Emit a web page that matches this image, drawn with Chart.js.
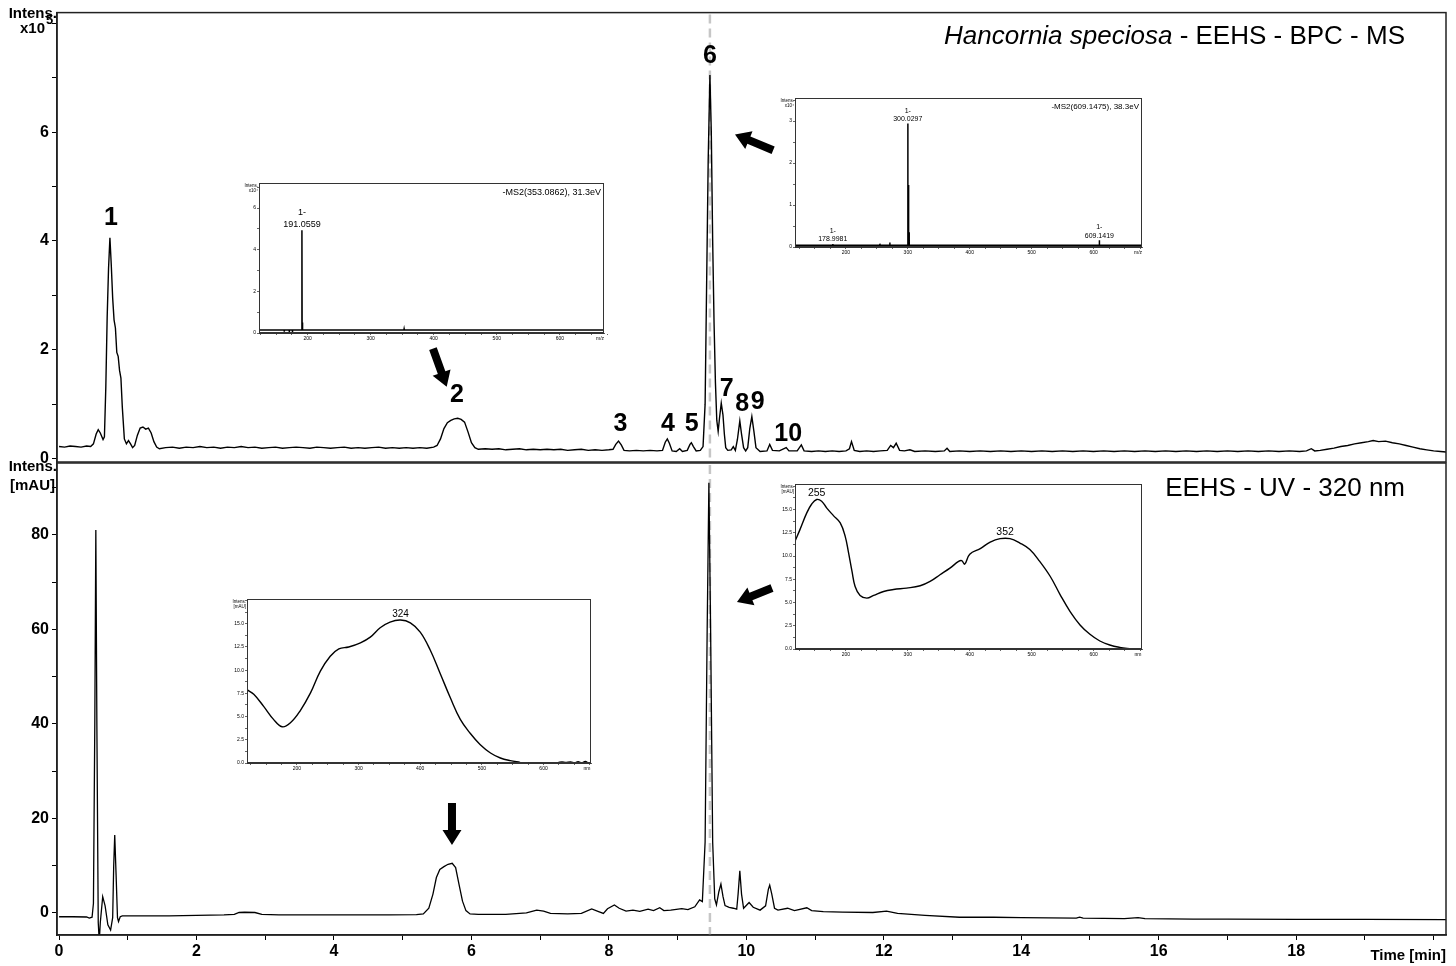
<!DOCTYPE html>
<html>
<head>
<meta charset="utf-8">
<title>Hancornia speciosa - EEHS - BPC - MS / UV 320 nm</title>
<script src="https://cdn.jsdelivr.net/npm/chart.js@4.4.1/dist/chart.umd.min.js"></script>
<style>
  html, body { margin: 0; padding: 0; background: #fff; }
  #wrap { position: relative; width: 1456px; height: 966px; overflow: hidden; }
  #wrap canvas { position: absolute; left: 0; top: 0; }
</style>
</head>
<body>
<div id="wrap">
  <canvas id="msChart" width="1456" height="966"></canvas>
  <canvas id="uvChart" width="1456" height="966"></canvas>
  <canvas id="ms353" width="1456" height="966"></canvas>
  <canvas id="ms609" width="1456" height="966"></canvas>
  <canvas id="uv324" width="1456" height="966"></canvas>
  <canvas id="uv352" width="1456" height="966"></canvas>
</div>
<script>
// ---- data ----

// BPC - MS trace (time in min, intensity x10^5)
const msTime = [
  0.00, 0.08, 0.16, 0.24, 0.32, 0.40, 0.46, 0.50, 0.54, 0.57,
  0.60, 0.64, 0.66, 0.68, 0.70, 0.72, 0.74, 0.76, 0.78, 0.80,
  0.82, 0.84, 0.86, 0.88, 0.90, 0.92, 0.95, 0.98, 1.01, 1.04,
  1.07, 1.10, 1.14, 1.18, 1.22, 1.26, 1.30, 1.34, 1.38, 1.42,
  1.46, 1.55, 1.65, 1.75, 1.85, 1.95, 2.05, 2.15, 2.25, 2.35,
  2.45, 2.55, 2.65, 2.75, 2.85, 2.95, 3.05, 3.15, 3.25, 3.35,
  3.45, 3.55, 3.65, 3.75, 3.85, 3.95, 4.05, 4.15, 4.25, 4.35,
  4.45, 4.55, 4.65, 4.75, 4.85, 4.95, 5.05, 5.15, 5.25, 5.35,
  5.45, 5.50, 5.55, 5.60, 5.65, 5.70, 5.75, 5.80, 5.85, 5.90,
  5.95, 6.00, 6.05, 6.10, 6.20, 6.30, 6.40, 6.50, 6.60, 6.70,
  6.80, 6.90, 7.00, 7.10, 7.20, 7.30, 7.40, 7.50, 7.60, 7.70,
  7.80, 7.90, 8.00, 8.06, 8.10, 8.14, 8.18, 8.22, 8.30, 8.40,
  8.50, 8.60, 8.70, 8.78, 8.82, 8.85, 8.88, 8.92, 8.98, 9.03,
  9.07, 9.14, 9.18, 9.20, 9.23, 9.27, 9.33, 9.37, 9.40, 9.42,
  9.445, 9.47, 9.49, 9.51, 9.53, 9.55, 9.57, 9.59, 9.61, 9.635,
  9.66, 9.68, 9.70, 9.73, 9.78, 9.81, 9.84, 9.87, 9.905, 9.93,
  9.96, 9.99, 10.02, 10.05, 10.08, 10.11, 10.14, 10.20, 10.30, 10.34,
  10.38, 10.48, 10.58, 10.62, 10.74, 10.80, 10.84, 10.95, 11.05, 11.15,
  11.25, 11.35, 11.45, 11.50, 11.53, 11.57, 11.65, 11.75, 11.85, 11.95,
  12.05, 12.10, 12.14, 12.18, 12.23, 12.30, 12.38, 12.45, 12.60, 12.75,
  12.88, 12.92, 12.96, 13.10, 13.25, 13.40, 13.55, 13.70, 13.85, 14.00,
  14.15, 14.30, 14.45, 14.60, 14.75, 14.90, 15.05, 15.20, 15.35, 15.50,
  15.65, 15.80, 15.95, 16.10, 16.25, 16.40, 16.55, 16.70, 16.85, 17.00,
  17.15, 17.30, 17.45, 17.60, 17.75, 17.90, 18.05, 18.15, 18.22, 18.27,
  18.35, 18.45, 18.55, 18.65, 18.75, 18.85, 18.95, 19.05, 19.12, 19.20,
  19.30, 19.40, 19.50, 19.60, 19.70, 19.80, 19.90, 20.00, 20.10, 20.18
];
const msIntensity = [
  0.22, 0.21, 0.23, 0.22, 0.21, 0.23, 0.22, 0.27, 0.45, 0.53,
  0.47, 0.35, 0.40, 1.30, 2.60, 3.50, 4.06, 3.55, 2.95, 2.55,
  2.40, 1.95, 1.88, 1.62, 1.48, 0.95, 0.36, 0.27, 0.33, 0.27,
  0.20, 0.24, 0.43, 0.56, 0.58, 0.54, 0.56, 0.47, 0.31, 0.21,
  0.18, 0.20, 0.21, 0.19, 0.21, 0.20, 0.22, 0.20, 0.21, 0.19,
  0.21, 0.20, 0.22, 0.20, 0.21, 0.19, 0.20, 0.21, 0.19, 0.20,
  0.21, 0.20, 0.19, 0.21, 0.20, 0.19, 0.20, 0.21, 0.19, 0.20,
  0.19, 0.20, 0.21, 0.19, 0.20, 0.19, 0.20, 0.19, 0.20, 0.19,
  0.21, 0.24, 0.36, 0.55, 0.66, 0.70, 0.73, 0.74, 0.72, 0.67,
  0.49, 0.29, 0.20, 0.17, 0.18, 0.17, 0.18, 0.16, 0.17, 0.18,
  0.16, 0.17, 0.16, 0.17, 0.16, 0.17, 0.15, 0.16, 0.17, 0.15,
  0.16, 0.15, 0.16, 0.17, 0.26, 0.32, 0.25, 0.15, 0.14, 0.15,
  0.14, 0.15, 0.14, 0.15, 0.30, 0.36, 0.28, 0.14, 0.13, 0.18,
  0.13, 0.15, 0.26, 0.29, 0.22, 0.14, 0.15, 0.22, 1.00, 3.00,
  5.50, 7.05, 6.00, 4.00, 2.50, 1.40, 0.70, 0.50, 0.75, 1.02,
  0.80, 0.45, 0.20, 0.15, 0.16, 0.22, 0.15, 0.35, 0.69, 0.45,
  0.20, 0.14, 0.20, 0.55, 0.77, 0.50, 0.20, 0.13, 0.14, 0.26,
  0.15, 0.14, 0.20, 0.14, 0.14, 0.25, 0.14, 0.13, 0.14, 0.13,
  0.14, 0.13, 0.14, 0.18, 0.31, 0.15, 0.13, 0.14, 0.13, 0.14,
  0.15, 0.24, 0.20, 0.28, 0.15, 0.14, 0.16, 0.13, 0.14, 0.13,
  0.14, 0.19, 0.13, 0.14, 0.13, 0.14, 0.13, 0.14, 0.13, 0.14,
  0.13, 0.14, 0.13, 0.14, 0.13, 0.14, 0.13, 0.14, 0.13, 0.14,
  0.13, 0.14, 0.13, 0.14, 0.13, 0.14, 0.13, 0.14, 0.13, 0.14,
  0.13, 0.14, 0.13, 0.14, 0.13, 0.14, 0.13, 0.14, 0.18, 0.14,
  0.15, 0.17, 0.19, 0.22, 0.24, 0.27, 0.29, 0.31, 0.33, 0.31,
  0.32, 0.29, 0.27, 0.24, 0.21, 0.18, 0.16, 0.14, 0.13, 0.12
];

// UV 320 nm trace (time in min, mAU)
const uvTime = [
  0.00, 0.20, 0.40, 0.44, 0.48, 0.50, 0.52, 0.535, 0.55, 0.57,
  0.585, 0.60, 0.635, 0.67, 0.71, 0.75, 0.78, 0.795, 0.81, 0.83,
  0.85, 0.865, 0.89, 0.92, 1.20, 1.60, 2.00, 2.40, 2.55, 2.62,
  2.70, 2.85, 2.95, 3.20, 3.60, 4.00, 4.40, 4.80, 5.20, 5.30,
  5.38, 5.44, 5.49, 5.54, 5.60, 5.66, 5.72, 5.77, 5.82, 5.87,
  5.92, 5.98, 6.10, 6.50, 6.80, 6.95, 7.05, 7.15, 7.40, 7.60,
  7.75, 7.85, 7.92, 7.98, 8.08, 8.15, 8.25, 8.35, 8.45, 8.57,
  8.65, 8.74, 8.80, 8.90, 9.06, 9.15, 9.25, 9.32, 9.36, 9.40,
  9.43, 9.455, 9.48, 9.51, 9.54, 9.565, 9.60, 9.63, 9.66, 9.69,
  9.75, 9.81, 9.86, 9.88, 9.905, 9.93, 9.96, 10.04, 10.10, 10.20,
  10.28, 10.32, 10.34, 10.37, 10.41, 10.46, 10.60, 10.70, 10.88, 10.95,
  11.12, 11.40, 11.84, 12.04, 12.20, 12.60, 13.10, 13.60, 14.00, 14.80,
  14.85, 14.90, 15.50, 15.70, 15.80, 16.50, 17.00, 18.00, 19.00, 20.18
];
const uvAbsorbance = [
  -0.80, -0.80, -0.85, -1.10, -0.90, 2.0, 40.0, 81.0, 40.0, -2.0,
  -6.0, -2.0, 3.45, 1.5, -2.5, -3.6, -1.0, 10.0, 16.5, 8.0,
  -1.0, -1.8, -0.8, -0.6, -0.6, -0.6, -0.5, -0.4, -0.3, 0.1,
  0.15, 0.1, -0.3, -0.4, -0.4, -0.4, -0.4, -0.4, -0.35, -0.2,
  1.0, 4.0, 7.5, 9.2, 9.8, 10.3, 10.5, 9.6, 6.0, 2.5,
  0.5, -0.2, -0.3, -0.3, 0.0, 0.6, 0.4, -0.1, -0.2, -0.1,
  0.85, 0.3, -0.1, 0.9, 1.7, 1.0, 0.4, 0.6, 0.35, 0.8,
  0.5, 1.1, 0.5, 0.6, 0.9, 0.7, 1.3, 2.75, 2.4, 15.0,
  60.0, 91.0, 60.0, 15.0, 3.0, 1.7, 4.5, 6.1, 3.5, 1.55,
  1.2, 1.0, 0.8, 4.0, 8.9, 4.0, 1.0, 2.2, 1.2, 0.6,
  1.5, 5.0, 5.9, 4.0, 1.0, 0.6, 1.0, 0.5, 1.1, 0.5,
  0.3, 0.2, 0.1, 0.4, -0.1, -0.5, -0.9, -0.9, -1.0, -1.1,
  -0.9, -1.1, -1.2, -1.0, -1.2, -1.3, -1.3, -1.35, -1.35, -1.4
];

// main axes ticks
const timeTicks = [0, 1, 2, 3, 4, 5, 6, 7, 8, 9, 10, 11, 12, 13, 14, 15, 16, 17, 18, 19, 20];
const timeLabels = [0, 2, 4, 6, 8, 10, 12, 14, 16, 18];
const msTicks = [0, 1, 2, 3, 4, 5, 6, 7, 8];
const msLabels = [0, 2, 4, 6];
const uvTicks = [0, 10, 20, 30, 40, 50, 60, 70, 80, 90];
const uvLabels = [0, 20, 40, 60, 80];

// numbered peaks in the MS trace (label centre, time / intensity)
const peakNames = ['1', '2', '3', '4', '5', '6', '7', '8', '9', '10'];
const peakTimes = [0.756, 5.79, 8.17, 8.86, 9.205, 9.47, 9.714, 9.94, 10.165, 10.61];
const peakLevels = [4.42, 1.16, 0.64, 0.64, 0.64, 7.40, 1.27, 1.00, 1.04, 0.45];
const markerTime = 9.47;

// MS2 spectra (m/z, intensity)
const ms353Mz = [163, 171, 176, 191.06, 192.06, 353.09];
const ms353Int = [0.06, 0.05, 0.05, 4.93, 0.50, 0.20];
const ms609Mz = [163, 178.998, 255.0, 271.0, 300.03, 301.03, 302.03, 343.0, 609.14];
const ms609Int = [0.04, 0.07, 0.08, 0.11, 2.94, 1.48, 0.35, 0.06, 0.16];

// UV spectra (nm, mAU)
const uv324Nm = [
  119, 130, 146, 162, 176, 189, 205, 222, 238, 254,
  268, 284, 303, 319, 335, 351, 368, 384, 400, 416,
  432, 449, 465, 481, 497, 514, 530, 546, 562,
  590,
  624, 630, 636, 644, 650, 656, 662, 668, 672
];
const uv324Abs = [
  7.9, 7.4, 6.1, 4.7, 3.9, 4.3, 5.6, 7.55, 9.9, 11.5,
  12.3, 12.5, 12.95, 13.56, 14.57, 15.18, 15.4, 15.1, 14.1, 12.2,
  9.7, 7.0, 4.7, 3.2, 2.0, 1.08, 0.54, 0.25, 0.07,
  null,
  0.05, 0.12, 0.05, 0.12, 0.0, 0.14, 0.02, 0.16, 0.0
];
const uv352Nm = [
  118, 126, 137, 145, 153, 161, 169, 180, 191, 199,
  204, 210, 215, 223, 234, 245, 261, 277, 298, 320,
  336, 352, 368, 382, 387, 392, 400, 417, 433, 449,
  465, 481, 497, 513, 530, 546, 562, 578, 594, 610,
  626, 642, 661
];
const uv352Abs = [
  11.6, 12.84, 14.64, 15.6, 16.08, 15.9, 15.18, 14.35, 13.56, 12.12,
  10.5, 8.35, 6.73, 5.76, 5.47, 5.76, 6.19, 6.4, 6.55, 6.8,
  7.27, 7.99, 8.7, 9.42, 9.5, 9.14, 10.2, 10.8, 11.5, 11.87,
  11.87, 11.4, 10.7, 9.42, 7.8, 5.83, 4.03, 2.59, 1.58, 0.86,
  0.43, 0.18, 0.0
];

// inset axis ticks
const insetXTicks = [125, 150, 175, 200, 225, 250, 275, 300, 325, 350, 375, 400, 425, 450, 475, 500, 525, 550, 575, 600, 625, 650, 675];
const insetXLabels = [200, 300, 400, 500, 600];
const ms353YTicks = [0, 1, 2, 3, 4, 5, 6, 7];
const ms353YLabels = [0, 2, 4, 6];
const ms609YTicks = [0, 0.5, 1, 1.5, 2, 2.5, 3, 3.5];
const ms609YLabels = [0, 1, 2, 3];
const uvInsetYTicks = [0, 1.25, 2.5, 3.75, 5, 6.25, 7.5, 8.75, 10, 11.25, 12.5, 13.75, 15, 16.25, 17.5];
const uvInsetYLabels = [0, 2.5, 5, 7.5, 10, 12.5, 15];

// ---- drawing ----
const W = 1456, H = 966;
const FONT = '"Liberation Sans", Arial, Helvetica, sans-serif';
Chart.defaults.font.family = FONT;
Chart.defaults.color = '#000';

function fixedLayout(area, yWidth, xHeight) {
  return { left: area.left - yWidth, top: area.top, right: W - area.right, bottom: H - area.bottom - xHeight };
}

function toPoints(xs, ys) {
  return xs.map((v, i) => ({ x: v, y: ys[i] }));
}

function stickPoints(mz, inten, base, xMin, xMax) {
  const pts = [{ x: xMin, y: base }];
  mz.forEach((m, i) => {
    pts.push({ x: m - 0.3, y: base }, { x: m, y: inten[i] }, { x: m + 0.3, y: base });
  });
  pts.push({ x: xMax, y: base });
  return pts;
}

function drawArrow(ctx, x1, y1, x2, y2) {
  const ang = Math.atan2(y2 - y1, x2 - x1);
  const len = Math.hypot(x2 - x1, y2 - y1);
  const shaft = 4, head = 9.5, headLen = 15;
  ctx.save();
  ctx.translate(x1, y1);
  ctx.rotate(ang);
  ctx.beginPath();
  ctx.moveTo(0, -shaft);
  ctx.lineTo(len - headLen, -shaft);
  ctx.lineTo(len - headLen, -head);
  ctx.lineTo(len, 0);
  ctx.lineTo(len - headLen, head);
  ctx.lineTo(len - headLen, shaft);
  ctx.lineTo(0, shaft);
  ctx.closePath();
  ctx.fillStyle = '#000';
  ctx.fill();
  ctx.restore();
}

function arrowAt(chart, a) {
  const { x, y } = chart.scales;
  drawArrow(chart.ctx, x.getPixelForValue(a[0]), y.getPixelForValue(a[1]),
    x.getPixelForValue(a[2]), y.getPixelForValue(a[3]));
}

// dashed marker at peak 6 plus frame and texts
function mainDecor(name, drawTexts) {
  return {
    id: 'decor_' + name,
    beforeDatasetsDraw(chart) {
      const { ctx, chartArea: a, scales: { x } } = chart;
      const px = x.getPixelForValue(markerTime);
      ctx.save();
      ctx.strokeStyle = '#c6c6c6';
      ctx.lineWidth = 2.5;
      ctx.setLineDash([9, 5]);
      ctx.beginPath();
      ctx.moveTo(px, a.top + 2);
      ctx.lineTo(px, a.bottom);
      ctx.stroke();
      ctx.restore();
    },
    afterDraw(chart) {
      const { ctx, chartArea: a } = chart;
      ctx.save();
      ctx.strokeStyle = '#222';
      ctx.lineWidth = 1.5;
      ctx.strokeRect(a.left, a.top, a.right - a.left, a.bottom - a.top);
      ctx.fillStyle = '#000';
      drawTexts(chart, ctx, a);
      ctx.restore();
    }
  };
}

function axisCommon(min, max, tickList, labelList, width, fmt) {
  return {
    type: 'linear', min: min, max: max,
    afterBuildTicks: s => { s.ticks = tickList.map(v => ({ value: v })); },
    ticks: {
      autoSkip: false, maxRotation: 0, color: '#000',
      font: { size: 16, weight: 'bold' },
      callback: v => labelList.includes(v) ? (fmt ? fmt(v) : String(v)) : ''
    },
    grid: { drawOnChartArea: false, drawTicks: true, tickLength: 5, color: '#000', lineWidth: 1 },
    border: { display: true, color: '#222', width: 1.5 }
  };
}

const lineStyle = { borderColor: '#000', pointRadius: 0, tension: 0, fill: false };

// top: BPC - MS
const msYAxis = axisCommon(-0.064, 8.2, msTicks, msLabels);
msYAxis.afterFit = s => { s.width = 57; };
msYAxis.ticks.padding = 3;

new Chart(document.getElementById('msChart'), {
  type: 'line',
  data: { datasets: [Object.assign({ data: toPoints(msTime, msIntensity), borderWidth: 1.4 }, lineStyle)] },
  options: {
    responsive: false, animation: false,
    layout: { padding: fixedLayout({ left: 57, top: 10, right: 1446, bottom: 462 }, 57, 0) },
    plugins: { legend: { display: false }, tooltip: { enabled: false } },
    scales: {
      x: { type: 'linear', min: -0.03, max: 20.18, display: false },
      y: msYAxis
    }
  },
  plugins: [mainDecor('ms', (chart, ctx, a) => {
    const { x, y } = chart.scales;
    // numbered peaks
    ctx.font = `bold 25px ${FONT}`;
    ctx.textAlign = 'center';
    ctx.textBaseline = 'middle';
    peakNames.forEach((n, i) => ctx.fillText(n, x.getPixelForValue(peakTimes[i]), y.getPixelForValue(peakLevels[i])));
    // title, right aligned, species name in italics
    ctx.textBaseline = 'middle';
    ctx.textAlign = 'left';
    const sp = 'Hancornia speciosa', rest = ' - EEHS - BPC - MS';
    ctx.font = `italic 26px ${FONT}`;
    const w1 = ctx.measureText(sp).width;
    ctx.font = `26px ${FONT}`;
    const w2 = ctx.measureText(rest).width;
    const x0 = 1405 - w1 - w2;
    ctx.font = `italic 26px ${FONT}`;
    ctx.fillText(sp, x0, 37);
    ctx.font = `26px ${FONT}`;
    ctx.fillText(rest, x0 + w1, 37);
    // y title
    ctx.font = `bold 15px ${FONT}`;
    ctx.textAlign = 'right';
    ctx.fillText('Intens.', 57, 14);
    ctx.fillText('x10', 45, 29);
    ctx.font = `bold 13px ${FONT}`;
    ctx.textAlign = 'left';
    ctx.fillText('5', 46, 20);
    // arrows towards peaks 2 and 6
    arrowAt(chart, [5.44, 2.02, 5.64, 1.32]);
    arrowAt(chart, [10.39, 5.67, 9.835, 5.96]);
  })]
});

// bottom: UV 320 nm
const uvXAxis = axisCommon(-0.03, 20.18, timeTicks, timeLabels);
uvXAxis.afterFit = s => { s.height = 31; };
uvXAxis.ticks.padding = 2;
const uvYAxis = axisCommon(-4.66, 95.2, uvTicks, uvLabels);
uvYAxis.afterFit = s => { s.width = 57; };
uvYAxis.ticks.padding = 3;

new Chart(document.getElementById('uvChart'), {
  type: 'line',
  data: { datasets: [Object.assign({ data: toPoints(uvTime, uvAbsorbance), borderWidth: 1.3 }, lineStyle)] },
  options: {
    responsive: false, animation: false,
    layout: { padding: fixedLayout({ left: 57, top: 463, right: 1446, bottom: 935 }, 57, 31) },
    plugins: { legend: { display: false }, tooltip: { enabled: false } },
    scales: { x: uvXAxis, y: uvYAxis }
  },
  plugins: [mainDecor('uv', (chart, ctx, a) => {
    ctx.font = `26px ${FONT}`;
    ctx.textAlign = 'right';
    ctx.textBaseline = 'middle';
    ctx.fillText('EEHS - UV - 320 nm', 1405, 489);
    ctx.font = `bold 15px ${FONT}`;
    ctx.fillText('Intens.', 57, 467);
    ctx.fillText('[mAU]', 55, 486);
    ctx.fillText('Time [min]', 1446, 956);
    arrowAt(chart, [5.717, 23.27, 5.717, 14.39]);
    arrowAt(chart, [10.373, 68.75, 9.864, 65.79]);
  })]
});

// ---- insets ----
function insetDecor(o) {
  return {
    id: 'inset_' + o.id,
    beforeDraw(chart) {
      const { ctx, chartArea: a } = chart;
      ctx.save();
      ctx.fillStyle = '#fff';
      ctx.fillRect(a.left, a.top, a.right - a.left, a.bottom - a.top);
      ctx.restore();
    },
    afterDraw(chart) {
      const { ctx, chartArea: a, scales: { x, y } } = chart;
      ctx.save();
      ctx.strokeStyle = '#333';
      ctx.lineWidth = 1;
      ctx.strokeRect(a.left + 0.5, a.top + 0.5, a.right - a.left - 1, a.bottom - a.top - 1);
      ctx.fillStyle = '#000';
      ctx.font = `4.5px ${FONT}`;
      ctx.textAlign = 'right';
      ctx.textBaseline = 'middle';
      ctx.fillText('Intens.', a.left - 1, a.top + 3);
      ctx.fillText(o.yUnit, a.left - 1, a.top + 8);
      ctx.font = `5px ${FONT}`;
      ctx.textAlign = 'center';
      ctx.textBaseline = 'top';
      ctx.fillText(o.xUnit, a.right - 4, a.bottom + 3);
      if (o.title) {
        ctx.font = `${o.titleSize}px ${FONT}`;
        ctx.textAlign = 'right';
        ctx.textBaseline = 'middle';
        ctx.fillText(o.title, a.right - 3, a.top + o.titleDy);
      }
      ctx.font = `${o.labelSize}px ${FONT}`;
      ctx.textAlign = 'center';
      ctx.textBaseline = 'bottom';
      o.labelX.forEach((lx, i) => {
        const px = x.getPixelForValue(lx), py = y.getPixelForValue(o.labelY[i]) - 1;
        o.labelText[i].slice().reverse().forEach((t, k) => ctx.fillText(t, px, py - k * o.lineGap));
      });
      ctx.restore();
    }
  };
}

function insetChart(o) {
  const tickFont = { size: 5 };
  return new Chart(document.getElementById(o.id), {
    type: 'line',
    data: { datasets: [{ data: o.points, borderColor: '#000', borderWidth: o.lineWidth, pointRadius: 0, tension: o.tension, spanGaps: false, fill: false }] },
    options: {
      responsive: false, animation: false,
      layout: { padding: fixedLayout(o.area, 14, 10) },
      plugins: { legend: { display: false }, tooltip: { enabled: false } },
      scales: {
        x: {
          type: 'linear', min: o.xMin, max: o.xMax,
          afterFit: s => { s.height = 10; },
          afterBuildTicks: s => { s.ticks = insetXTicks.map(v => ({ value: v })); },
          ticks: { autoSkip: false, maxRotation: 0, font: tickFont, color: '#000', padding: 1,
            callback: v => insetXLabels.includes(v) ? String(v) : '' },
          grid: { drawOnChartArea: false, tickLength: 2, color: '#000', lineWidth: 0.6 },
          border: { color: '#333', width: 1 }
        },
        y: {
          type: 'linear', min: o.yMin, max: o.yMax,
          afterFit: s => { s.width = 14; },
          afterBuildTicks: s => { s.ticks = o.yTicks.map(v => ({ value: v })); },
          ticks: { autoSkip: false, font: tickFont, color: '#000', padding: 1,
            callback: v => o.yLabels.includes(v) ? o.fmt(v) : '' },
          grid: { drawOnChartArea: false, tickLength: 2, color: '#000', lineWidth: 0.6 },
          border: { color: '#333', width: 1 }
        }
      }
    },
    plugins: [insetDecor(o)]
  });
}

insetChart({
  id: 'ms353', area: { left: 259, top: 183, right: 604, bottom: 333 },
  xMin: 123, xMax: 670, yMin: 0, yMax: 7.2,
  points: stickPoints(ms353Mz, ms353Int, 0.15, 123, 670), lineWidth: 1.5, tension: 0,
  yTicks: ms353YTicks, yLabels: ms353YLabels, fmt: v => String(v),
  yUnit: 'x10\u2074', xUnit: 'm/z',
  title: '-MS2(353.0862), 31.3eV', titleSize: 9, titleDy: 10,
  labelX: [191.06], labelY: [4.93], labelText: [['1-', '191.0559']], labelSize: 9, lineGap: 12
});

insetChart({
  id: 'ms609', area: { left: 795, top: 98, right: 1142, bottom: 247 },
  xMin: 118, xMax: 678, yMin: 0, yMax: 3.55,
  points: stickPoints(ms609Mz, ms609Int, 0.04, 118, 678), lineWidth: 1.5, tension: 0,
  yTicks: ms609YTicks, yLabels: ms609YLabels, fmt: v => String(v),
  yUnit: 'x10\u2074', xUnit: 'm/z',
  title: '-MS2(609.1475), 38.3eV', titleSize: 8, titleDy: 9,
  labelX: [178.998, 300.03, 609.14], labelY: [0.07, 2.94, 0.16],
  labelText: [['1-', '178.9981'], ['1-', '300.0297'], ['1-', '609.1419']], labelSize: 7, lineGap: 8.5
});

insetChart({
  id: 'uv324', area: { left: 247, top: 599, right: 591, bottom: 763 },
  xMin: 119, xMax: 677, yMin: 0, yMax: 17.67,
  points: toPoints(uv324Nm, uv324Abs), lineWidth: 1.4, tension: 0.4,
  yTicks: uvInsetYTicks, yLabels: uvInsetYLabels, fmt: v => v.toFixed(1),
  yUnit: '[mAU]', xUnit: 'nm',
  labelX: [368], labelY: [15.4], labelText: [['324']], labelSize: 10, lineGap: 10
});

insetChart({
  id: 'uv352', area: { left: 795, top: 484, right: 1142, bottom: 649 },
  xMin: 118, xMax: 678, yMin: 0, yMax: 17.75,
  points: toPoints(uv352Nm, uv352Abs), lineWidth: 1.4, tension: 0.4,
  yTicks: uvInsetYTicks, yLabels: uvInsetYLabels, fmt: v => v.toFixed(1),
  yUnit: '[mAU]', xUnit: 'nm',
  labelX: [153, 457], labelY: [16.08, 11.87], labelText: [['255'], ['352']], labelSize: 10.5, lineGap: 10
});
</script>
</body>
</html>
